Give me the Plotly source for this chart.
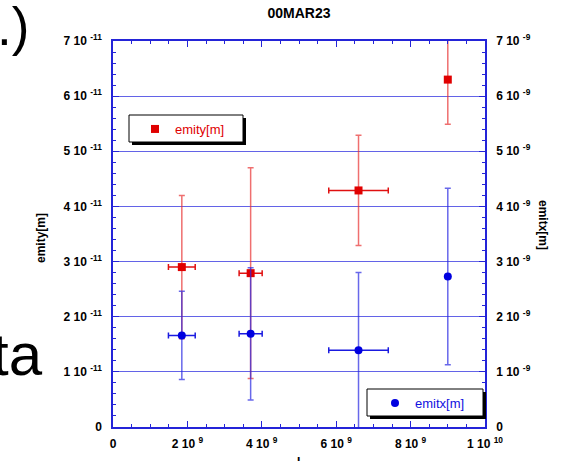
import plotly.graph_objects as go

# ---- data ----
x_vals = [1.85e9, 3.70e9, 6.60e9, 9.00e9]
x_err = [0.36e9, 0.31e9, 0.80e9, None]

emity = [2.90e-11, 2.79e-11, 4.29e-11, 6.30e-11]
emity_err = [1.30e-11, 1.91e-11, 1.00e-11, 0.81e-11]

emitx = [1.66e-9, 1.69e-9, 1.39e-9, 2.73e-9]
emitx_err = [0.80e-9, 1.20e-9, 1.41e-9, 1.60e-9]

x_tickvals = [0, 2e9, 4e9, 6e9, 8e9, 1e10]
x_ticktext = ["0", "2 10 <sup>9</sup>", "4 10 <sup>9</sup>", "6 10 <sup>9</sup>",
              "8 10 <sup>9</sup>", "1 10 <sup>10</sup>"]
yl_tickvals = [i * 1e-11 for i in range(8)]
yl_ticktext = ["0"] + [f"{i} 10 <sup>-11</sup>" for i in range(1, 8)]
yr_tickvals = [i * 1e-9 for i in range(8)]
yr_ticktext = ["0"] + [f"{i} 10 <sup>-9</sup>" for i in range(1, 8)]

title_text = "00MAR23"

# ---- layout geometry ----
W, H = 564, 461
L, R, T, B = 113, 485, 41, 427
PW, PH = R - L, B - T


def px(p):
    return (p - L) / PW


def py(p):
    return (B - p) / PH


FONT = "Liberation Sans"
AXC = "#2424d8"
GRID = "rgba(60,60,225,0.8)"

fig = go.Figure()

fig.add_trace(go.Scatter(
    x=x_vals, y=emity, mode="markers", name="emity[m]",
    marker=dict(symbol="square", size=8, color="#e00000"),
    error_y=dict(type="data", array=emity_err, color="rgba(232,50,50,0.7)",
                 thickness=1.5, width=3),
    error_x=dict(type="data", array=x_err, color="#e01010", thickness=1.5, width=3),
    legend="legend",
))
fig.add_trace(go.Scatter(
    x=x_vals, y=emitx, mode="markers", name="emitx[m]", yaxis="y2",
    marker=dict(symbol="circle", size=8, color="#0000e0"),
    error_y=dict(type="data", array=emitx_err, color="rgba(40,40,225,0.7)",
                 thickness=1.5, width=3),
    error_x=dict(type="data", array=x_err, color="#1a1ae0", thickness=1.5, width=3),
    legend="legend2",
))

tickfont = dict(family=FONT, size=12, color="black", weight="bold")

fig.update_layout(
    width=W, height=H,
    margin=dict(l=L, r=W - R, t=T, b=H - B, autoexpand=False),
    paper_bgcolor="white", plot_bgcolor="white",
    title=dict(text=title_text, x=0.5, xref="paper", y=1 - 13 / H, yanchor="middle",
               font=dict(family=FONT, size=14, color="black", weight="bold")),
    xaxis=dict(range=[0, 1e10], tickmode="array", tickvals=x_tickvals, ticktext=x_ticktext,
               ticks="inside", ticklen=6, tickcolor=AXC, showline=True, linecolor=AXC,
               linewidth=1.5, mirror="ticks", showgrid=False, zeroline=False,
               tickfont=tickfont, ticklabelstandoff=5, automargin=False,
               minor=dict(dtick=0.5e9, tick0=0, ticks="inside", ticklen=3, tickcolor=AXC)),
    yaxis=dict(range=[0, 7e-11], tickmode="array", tickvals=yl_tickvals, ticktext=yl_ticktext,
               ticks="inside", ticklen=6, tickcolor=AXC, showline=True, linecolor=AXC,
               linewidth=1.5, showgrid=True, gridcolor=GRID,
               gridwidth=1, zeroline=False, tickfont=tickfont, ticklabelstandoff=7,
               automargin=False,
               minor=dict(dtick=0.2e-11, tick0=0, ticks="inside", ticklen=3, tickcolor=AXC)),
    yaxis2=dict(range=[0, 7e-9], overlaying="y", side="right", tickmode="array",
                tickvals=yr_tickvals, ticktext=yr_ticktext,
                ticks="inside", ticklen=6, tickcolor=AXC, showline=True, linecolor=AXC,
                linewidth=1.5, showgrid=False, zeroline=False, tickfont=tickfont,
                ticklabelstandoff=7, automargin=False,
                minor=dict(dtick=0.2e-9, tick0=0, ticks="inside", ticklen=3, tickcolor=AXC)),
    legend=dict(x=px(135), y=py(129), xanchor="left", yanchor="middle",
                bgcolor="rgba(0,0,0,0)", borderwidth=0,
                font=dict(family=FONT, size=13, color="#e00000")),
    legend2=dict(x=px(375), y=py(403), xanchor="left", yanchor="middle",
                 bgcolor="rgba(0,0,0,0)", borderwidth=0,
                 font=dict(family=FONT, size=13, color="#1010e0")),
    showlegend=True,
)

# legend boxes with drop shadows
for (x0, y0, x1, y1) in [(129, 115, 243, 142), (367, 389, 483, 416)]:
    fig.add_shape(type="rect", xref="paper", yref="paper", layer="above",
                  x0=px(x0 + 3), x1=px(x1 + 3), y0=py(y1 + 3), y1=py(y0 + 3),
                  fillcolor="black", line=dict(width=0))
    fig.add_shape(type="rect", xref="paper", yref="paper", layer="above",
                  x0=px(x0), x1=px(x1), y0=py(y1), y1=py(y0),
                  fillcolor="white", line=dict(color="black", width=1))

# axis titles
fig.add_annotation(text="emity[m]", xref="paper", yref="paper", x=px(32), y=py(238),
                   textangle=-90, showarrow=False,
                   font=dict(family=FONT, size=12, color="black", weight="bold"))
fig.add_annotation(text="emitx[m]", xref="paper", yref="paper", x=px(552), y=py(225),
                   textangle=90, showarrow=False,
                   font=dict(family=FONT, size=12, color="black", weight="bold"))
fig.add_annotation(text="I", xref="paper", yref="paper", x=px(298), y=py(453),
                   yanchor="top", showarrow=False,
                   font=dict(family=FONT, size=12, color="black", weight="bold"))

# background slide text fragments
fig.add_annotation(text=".)", xref="paper", yref="paper", x=px(31), y=py(26),
                   xanchor="right", yanchor="middle", showarrow=False,
                   font=dict(family=FONT, size=53, color="black"))
fig.add_annotation(text="ta", xref="paper", yref="paper", x=px(45), y=py(354),
                   xanchor="right", yanchor="middle", showarrow=False,
                   font=dict(family=FONT, size=60, color="black"))

fig.write_html("out.html")
